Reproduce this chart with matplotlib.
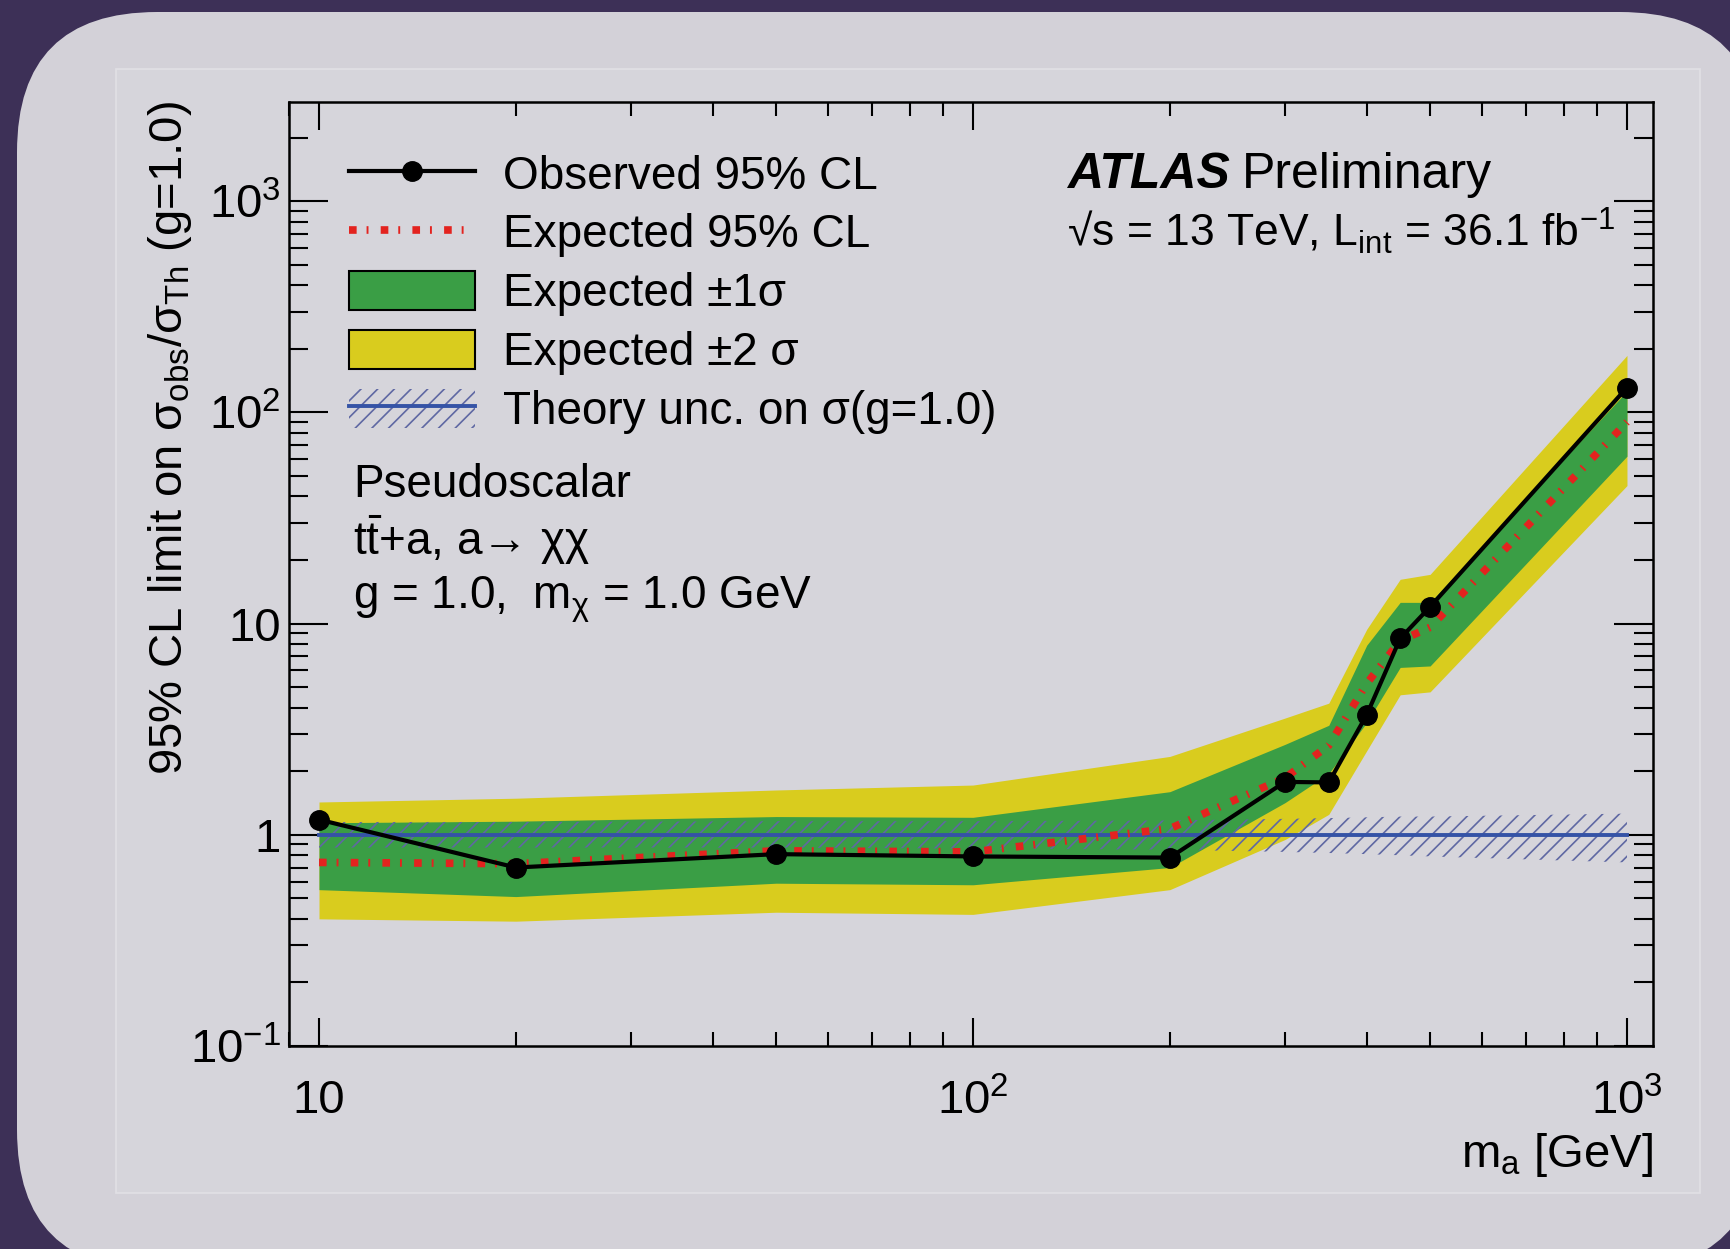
import matplotlib
matplotlib.use("Agg")
import matplotlib.pyplot as plt
import matplotlib.ticker as mticker
from matplotlib.patches import FancyBboxPatch, Rectangle, Patch
from matplotlib.lines import Line2D
from matplotlib.transforms import IdentityTransform

# ---------------- data ----------------
mass = [10, 20, 50, 100, 200, 300, 350, 400, 450, 500, 1000]
observed = [1.18, 0.70, 0.81, 0.79, 0.78, 1.78, 1.77, 3.7, 8.5, 12.0, 131]
expected = [0.74, 0.73, 0.84, 0.83, 1.07, 1.86, 2.65, 5.2, 8.3, 9.6, 90]
exp_1s_lo = [0.55, 0.51, 0.59, 0.58, 0.70, 1.42, 1.95, 3.4, 6.2, 6.3, 62]
exp_1s_hi = [1.14, 1.16, 1.22, 1.21, 1.60, 2.68, 3.3, 7.9, 12.6, 12.6, 126]
exp_2s_lo = [0.40, 0.39, 0.43, 0.42, 0.55, 0.95, 1.25, 2.5, 4.6, 4.75, 45]
exp_2s_hi = [1.43, 1.49, 1.63, 1.72, 2.35, 3.57, 4.2, 9.4, 16.2, 17.1, 186]
theory_ref = [1.0] * len(mass)
theory_lo = [0.87, 0.87, 0.87, 0.86, 0.85, 0.83, 0.82, 0.81, 0.80, 0.79, 0.74]
theory_hi = [1.15, 1.15, 1.16, 1.16, 1.17, 1.19, 1.20, 1.21, 1.22, 1.22, 1.26]

x_ticks = [10, 100, 1000]
x_ticklabels = ["10", "10$^{2}$", "10$^{3}$"]
y_ticks = [0.1, 1, 10, 100, 1000]
y_ticklabels = ["10$^{-1}$", "1", "10", "10$^{2}$", "10$^{3}$"]

legend_labels = ["Observed 95% CL", "Expected 95% CL", "Expected \u00b11\u03c3",
                 "Expected \u00b12 \u03c3", "Theory unc. on \u03c3(g=1.0)"]

# ---------------- style ----------------
plt.rcParams["font.family"] = ["Liberation Sans", "DejaVu Sans"]
plt.rcParams["mathtext.fontset"] = "custom"
plt.rcParams["mathtext.rm"] = "Liberation Sans"
plt.rcParams["mathtext.it"] = "Liberation Sans"
plt.rcParams["mathtext.bf"] = "Liberation Sans:bold"
plt.rcParams["hatch.linewidth"] = 1.2

C_GREEN = "#3a9e45"
C_YELLOW = "#d9cc1e"
C_RED = "#e3231f"
C_BLUE = "#3553a6"
C_HATCH = "#5f68a3"
FS = 33

fig = plt.figure(figsize=(17.3, 12.49), dpi=100)
fig.patch.set_facecolor("#3d3057")

panel = FancyBboxPatch((17, -21), 1743, 1258,
                       boxstyle="round,pad=0,rounding_size=140",
                       transform=IdentityTransform(), facecolor="#d3d1d8",
                       edgecolor="none", zorder=-3)
fig.add_artist(panel)
inner = Rectangle((116, 56), 1584, 1124, transform=IdentityTransform(),
                  facecolor="#d6d5db", edgecolor="#e1e0e5", lw=1.2, zorder=-2)
fig.add_artist(inner)

ax = fig.add_axes([0.1671, 0.1625, 0.7884, 0.7562])
ax.set_facecolor("none")
ax.set_xscale("log")
ax.set_yscale("log")
ax.set_xlim(9.0, 1096)
ax.set_ylim(0.1, 2960)

ax.fill_between(mass, exp_2s_lo, exp_2s_hi, color=C_YELLOW, lw=0, zorder=1)
ax.fill_between(mass, exp_1s_lo, exp_1s_hi, color=C_GREEN, lw=0, zorder=2)
ax.fill_between(mass, theory_lo, theory_hi, facecolor="none", edgecolor=C_HATCH,
                hatch="//", lw=0, zorder=3)
ax.plot(mass, theory_ref, color=C_BLUE, lw=2.8, zorder=4)
ax.plot(mass, expected, color=C_RED, lw=5.5, ls=(0, (1.0, 1.3, 0.25, 1.6)),
        dash_capstyle="butt", zorder=5)
ax.plot(mass, observed, color="black", lw=3.0, marker="o", ms=14, zorder=6)

# axes / ticks
for s in ax.spines.values():
    s.set_linewidth(1.8)
ax.set_xticks(x_ticks, labels=x_ticklabels)
ax.set_yticks(y_ticks, labels=y_ticklabels)
ax.xaxis.set_minor_locator(mticker.LogLocator(base=10, subs=range(2, 10), numticks=20))
ax.yaxis.set_minor_locator(mticker.LogLocator(base=10, subs=range(2, 10), numticks=20))
ax.xaxis.set_minor_formatter(mticker.NullFormatter())
ax.yaxis.set_minor_formatter(mticker.NullFormatter())
ax.tick_params(axis="both", which="both", direction="in", top=True, right=True,
               labelsize=34, width=1.5)
ax.tick_params(axis="x", which="major", length=20, pad=24)
ax.tick_params(axis="x", which="minor", length=10)
ax.tick_params(axis="y", which="major", length=28, pad=6)
ax.tick_params(axis="y", which="minor", length=14)

ax.set_ylabel("95% CL limit on \u03c3$_{\\rm obs}$/\u03c3$_{\\rm Th}$ (g=1.0)",
              fontsize=34, loc="top")
ax.yaxis.set_label_coords(-0.07, 1.0)
ax.set_xlabel("m$_{\\rm a}$ [GeV]", fontsize=34, loc="right")
ax.xaxis.set_label_coords(1.0, -0.09)

# legend
h_obs = Line2D([], [], color="black", lw=3.0, marker="o", ms=14)
h_exp = Line2D([], [], color=C_RED, lw=5.5, ls=(0, (1.0, 1.3, 0.25, 1.6)), dash_capstyle="butt")
h_1s = Patch(facecolor=C_GREEN, edgecolor="black", lw=1.5)
h_2s = Patch(facecolor=C_YELLOW, edgecolor="black", lw=1.5)
h_th = (Patch(facecolor="none", edgecolor=C_HATCH, hatch="//", lw=0),
        Line2D([], [], color=C_BLUE, lw=2.8))
ax.legend([h_obs, h_exp, h_1s, h_2s, h_th], legend_labels, loc="upper left",
          bbox_to_anchor=(0.044, 0.945), frameon=False, fontsize=FS,
          borderpad=0, borderaxespad=0, handlelength=2.75, handleheight=0.92,
          handletextpad=0.6, labelspacing=0.3)

# texts
t_atlas = ax.text(0.5704, 0.9084, "ATLAS", transform=ax.transAxes, fontsize=36,
                  fontweight="bold", fontstyle="italic", va="baseline", ha="left")
ax.annotate("Preliminary", xy=(1, 0), xycoords=t_atlas, xytext=(12, 0),
            textcoords="offset pixels", fontsize=36, va="bottom", ha="left")
ax.text(0.5704, 0.846, "\u221as = 13 TeV, L$_{\\rm int}$ = 36.1 fb$^{-1}$",
        transform=ax.transAxes, fontsize=32, va="baseline", ha="left")
ax.text(0.0469, 0.5818, "Pseudoscalar", transform=ax.transAxes, fontsize=FS,
        va="baseline", ha="left")
ax.text(0.0469, 0.5199, "t$\\bar{\\rm t}$+a, a\u2192 \u03c7\u03c7", transform=ax.transAxes,
        fontsize=FS, va="baseline", ha="left")
ax.text(0.0469, 0.4637, "g = 1.0,  m$_{\u03c7}$ = 1.0 GeV", transform=ax.transAxes,
        fontsize=FS, va="baseline", ha="left")

fig.savefig("out.png", dpi=100, facecolor=fig.get_facecolor())
